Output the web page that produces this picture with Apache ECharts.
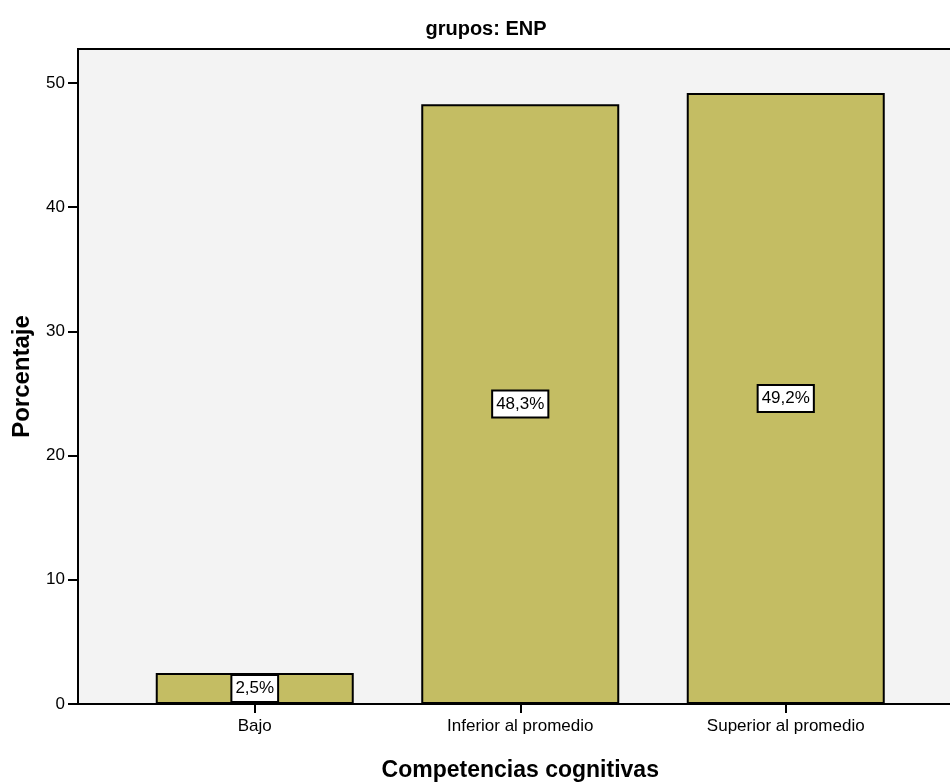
<!DOCTYPE html>
<html><head><meta charset="utf-8">
<script src="https://cdn.jsdelivr.net/npm/echarts@6/dist/echarts.min.js"></script>
<style>html,body{margin:0;padding:0;background:#fff}#c{width:950px;height:782px}</style>
</head><body><div id="c"></div>
<script>
const categories = ["Bajo", "Inferior al promedio", "Superior al promedio"];
const values = [2.5, 48.3, 49.2];
const yTicks = [0, 10, 20, 30, 40, 50];
const yMax = 52.74;
const titleText = "grupos: ENP";
const xName = "Competencias cognitivas";
const yName = "Porcentaje";

const chart = echarts.init(document.getElementById('c'));
const font = "Liberation Sans, Arial, sans-serif";
chart.setOption({
  animation: false,
  title: { text: titleText, left: 481, top: 14, textAlign: 'center',
    textStyle: { fontFamily: font, fontWeight: 'bold', fontSize: 20, color: '#000' } },
  grid: [
    { left: 78, top: 49, right: -4, bottom: 78, show: true, backgroundColor: '#f3f3f3', borderColor: '#000', borderWidth: 2, outerBoundsMode: 'none', containLabel: false },
    { left: 122, top: 49, width: 796.5, bottom: 78, outerBoundsMode: 'none', containLabel: false }
  ],
  xAxis: [
    { gridIndex: 0, type: 'value', min: 0, max: 1, show: false },
    { gridIndex: 1, type: 'category', data: categories,
      axisLine: { show: false },
      axisTick: { show: true, alignWithLabel: true, length: 9, lineStyle: { color: '#000', width: 2 } },
      axisLabel: { interval: 0, fontFamily: font, fontSize: 17, color: '#000', margin: 14 },
      name: xName, nameLocation: 'middle', nameGap: 55,
      nameTextStyle: { fontFamily: font, fontWeight: 'bold', fontSize: 23, color: '#000' } }
  ],
  yAxis: [
    { gridIndex: 0, type: 'value', min: 0, max: yMax, interval: 10,
      axisLine: { show: false },
      axisTick: { show: true, length: 10, customValues: yTicks, lineStyle: { color: '#000', width: 2 } },
      splitLine: { show: false },
      axisLabel: { fontFamily: font, fontSize: 17, color: '#000', margin: 13, customValues: yTicks },
      name: yName, nameLocation: 'middle', nameGap: 44,
      nameTextStyle: { fontFamily: font, fontWeight: 'bold', fontSize: 24, color: '#000' } },
    { gridIndex: 1, type: 'value', min: 0, max: yMax, show: false }
  ],
  series: [{
    type: 'bar', xAxisIndex: 1, yAxisIndex: 1, data: values, barWidth: 198,
    itemStyle: { color: '#c4bd63', borderColor: '#000', borderWidth: 2 },
    label: { show: true, position: 'inside', formatter: p => String(p.value).replace('.', ',') + '%',
      fontFamily: font, fontSize: 17, color: '#000', backgroundColor: '#fff',
      borderColor: '#000', borderWidth: 2, padding: [5, 3, 3, 3] }
  }]
});
</script></body></html>
